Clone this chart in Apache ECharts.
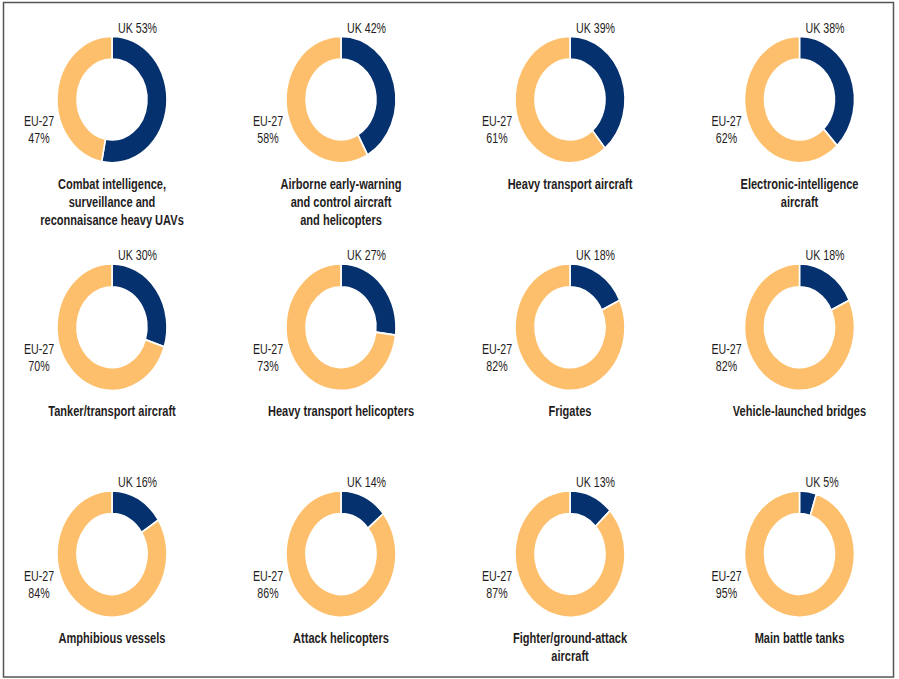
<!DOCTYPE html>
<html><head><meta charset="utf-8">
<script src="https://cdn.jsdelivr.net/npm/echarts@6/dist/echarts.min.js"></script>
<style>
html,body{margin:0;padding:0;background:#fff;overflow:hidden}
#wrap{width:899px;height:679px;overflow:hidden;position:relative;background:#fff}
#c{width:899px;height:590px;transform:scaleY(1.1508);transform-origin:0 0}
</style>
</head><body><div id="wrap"><div id="c"></div></div>
<script>
// ---- data ----
const categories = [
  'Combat intelligence,\nsurveillance and\nreconnaisance heavy UAVs',
  'Airborne early-warning\nand control aircraft\nand helicopters',
  'Heavy transport aircraft',
  'Electronic-intelligence\naircraft',
  'Tanker/transport aircraft',
  'Heavy transport helicopters',
  'Frigates',
  'Vehicle-launched bridges',
  'Amphibious vessels',
  'Attack helicopters',
  'Fighter/ground-attack\naircraft',
  'Main battle tanks'
];
const seriesNames = ['UK', 'EU-27'];
const ukShare = [53, 42, 39, 38, 30, 27, 18, 18, 16, 14, 13, 5];
const euShare = [47, 58, 61, 62, 70, 73, 82, 82, 84, 86, 87, 95];

// ---- layout (unscaled coordinates; page stretched vertically by CSS) ----
const SY = 1.1508;
const NARROW = 0.82;
const colX = [112, 341, 570, 799.5];
const rowY = [99.5 / SY, 327.2 / SY, 554 / SY];
const FONT = "'Liberation Sans', Arial, sans-serif";
const NAVY = '#06316f';
const ORANGE = '#fdbf6b';
const TXT = '#1f1d22';

const centers = categories.map((_, i) => [colX[i % 4], rowY[Math.floor(i / 4)]]);

const series = categories.map((cat, i) => ({
  type: 'pie',
  name: cat.replace(/\n/g, ' '),
  center: centers[i],
  radius: [35, 55],
  startAngle: 90,
  clockwise: true,
  avoidLabelOverlap: false,
  animation: false,
  silent: true,
  emphasis: { disabled: true },
  itemStyle: { borderColor: '#ffffff', borderWidth: 1.6 },
  label: { show: false },
  labelLine: { show: false },
  data: [
    { name: seriesNames[0], value: ukShare[i], itemStyle: { color: NAVY } },
    { name: seriesNames[1], value: euShare[i], itemStyle: { color: ORANGE } }
  ]
}));

const texts = [];
categories.forEach((cat, i) => {
  const c = centers[i];
  texts.push({
    type: 'text', x: c[0] + 6, y: c[1] - 62.6, scaleX: NARROW, silent: true,
    style: { text: `${seriesNames[0]} ${ukShare[i]}%`, fontFamily: FONT, fontSize: 13,
      fill: TXT, align: 'left', verticalAlign: 'middle' }
  });
  texts.push({
    type: 'text', x: c[0] - 73, y: c[1] + 26, scaleX: NARROW, silent: true,
    style: { text: `${seriesNames[1]}\n${euShare[i]}%`, fontFamily: FONT, fontSize: 13,
      lineHeight: 14.6, fill: TXT, align: 'center', verticalAlign: 'middle' }
  });
  texts.push({
    type: 'text', x: c[0], y: c[1] + 65, scaleX: NARROW, silent: true,
    style: { text: cat, fontFamily: FONT, fontSize: 13.5, fontWeight: 'bold',
      lineHeight: 15.9, fill: TXT, align: 'center', verticalAlign: 'top' }
  });
});

const chart = echarts.init(document.getElementById('c'), null, { renderer: 'svg' });
chart.setOption({
  backgroundColor: '#ffffff',
  animation: false,
  graphic: [{
    type: 'rect',
    shape: { x: 3.5, y: 2.5 / SY, width: 890, height: (677 - 2.5) / SY },
    style: { fill: 'none', stroke: '#555555', lineWidth: 1.5 },
    silent: true
  }].concat(texts),
  series: series
});
</script>
</body></html>
